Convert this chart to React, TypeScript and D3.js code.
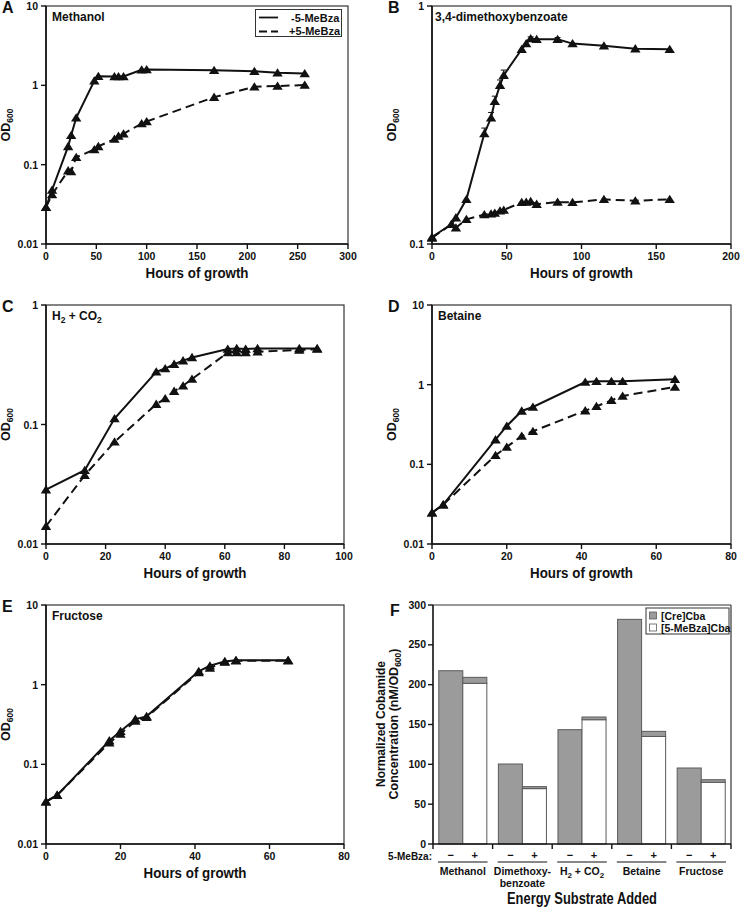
import React from "react";
import * as d3 from "d3";

// ---------- DATA ----------
const aHours = [0, 6, 22, 25, 30, 48, 52, 68, 72, 77, 95, 100, 167, 207, 230, 257];
const aMinus = [0.029, 0.048, 0.17, 0.235, 0.39, 1.14, 1.3, 1.29, 1.29, 1.29, 1.57, 1.58, 1.55, 1.5, 1.44, 1.41];
const aPlus = [0.029, 0.042, 0.084, 0.082, 0.124, 0.155, 0.17, 0.21, 0.23, 0.245, 0.33, 0.35, 0.71, 0.96, 0.98, 1.01];

const bHours = [0, 13, 16, 23, 35, 39.5, 42, 45.5, 48, 60, 63, 66, 70, 84, 94, 115, 136, 159];
const bMinus = [0.107, 0.121, 0.129, 0.154, 0.291, 0.339, 0.398, 0.465, 0.512, 0.658, 0.695, 0.73, 0.725, 0.725, 0.695, 0.68, 0.662, 0.658];
const bMinusErr = [0, 0, 0, 0, 0.016, 0.018, 0.02, 0.024, 0.026, 0, 0, 0.012, 0, 0.012, 0, 0, 0, 0];
const bPlus = [0.106, 0.121, 0.117, 0.127, 0.133, 0.134, 0.135, 0.138, 0.139, 0.1496, 0.15, 0.151, 0.147, 0.15, 0.1496, 0.154, 0.152, 0.154];

const cHours = [0, 13, 23, 37, 40, 43, 46, 49, 61, 64, 67, 71, 85, 91];
const cMinus = [0.0285, 0.0414, 0.112, 0.276, 0.294, 0.32, 0.342, 0.364, 0.428, 0.433, 0.428, 0.433, 0.433, 0.433];
const cPlus = [0.0141, 0.0376, 0.0716, 0.148, 0.165, 0.19, 0.211, 0.24, 0.4, 0.4, 0.4, 0.407, 0.42, 0.428];

const dHours = [0, 3, 17, 20, 24, 27, 41, 44, 48, 51, 65];
const dMinus = [0.0247, 0.0312, 0.204, 0.303, 0.468, 0.525, 1.08, 1.1, 1.1, 1.1, 1.17];
const dPlus = [0.0247, 0.0312, 0.13, 0.165, 0.227, 0.26, 0.472, 0.535, 0.636, 0.721, 0.935];

const eHours = [0, 3, 17, 20, 24, 27, 41, 44, 48, 51, 65];
const eMinus = [0.034, 0.041, 0.198, 0.26, 0.37, 0.4, 1.47, 1.73, 1.96, 2.02, 2.02];
const ePlus = [0.034, 0.041, 0.186, 0.24, 0.35, 0.39, 1.42, 1.62, 1.92, 2.0, 2.0];

const fCategories = ["Methanol", "Dimethoxy", "H2CO2", "Betaine", "Fructose"];
const fMinusCre = [217.5, 100.4, 143.5, 282, 95.4];
const fPlusMeBza = [201.7, 69.5, 156, 135, 77.4];
const fPlusCre = [7.5, 2.5, 3.4, 6.4, 3.3];

const xTicksA = [0, 50, 100, 150, 200, 250, 300];
const xTicksB = [0, 50, 100, 150, 200];
const xTicksC = [0, 20, 40, 60, 80, 100];
const xTicks80 = [0, 20, 40, 60, 80];
const yTicks4 = [0.01, 0.1, 1, 10];
const yTicksB = [0.1, 1];
const yTicksC = [0.01, 0.1, 1];
const fYTicks = [0, 50, 100, 150, 200, 250, 300];

// ---------- STYLE ----------
const FONT = "'Liberation Sans', Arial, Helvetica, sans-serif";
const INK = "#111";

function tri(cx: number, cy: number, s = 5.2) {
  const h = s * 1.6;
  return `M${cx},${cy - h * 0.55}L${cx + s},${cy + h * 0.45}L${cx - s},${cy + h * 0.45}Z`;
}

type Series = { x: number[]; y: number[]; dashed: boolean; err?: number[] };

function LogPanel(props: {
  x0: number; x1: number; yTop: number; yBot: number;
  xMax: number; xTicks: number[]; yMin: number; yMax: number; yTicks: number[];
  series: Series[]; letter: string; letterX: number; title: React.ReactNode; titleX: number;
}) {
  const { x0, x1, yTop, yBot, xMax, xTicks, yMin, yMax, yTicks, series, letter, letterX, title, titleX } = props;
  const xs = d3.scaleLinear().domain([0, xMax]).range([x0, x1]);
  const ys = d3.scaleLog().domain([yMin, yMax]).range([yBot, yTop]);
  const line = d3.line<[number, number]>().x((d) => xs(d[0])).y((d) => ys(d[1]));
  const cx = (x0 + x1) / 2;
  const cy = (yTop + yBot) / 2;
  return (
    <g fontFamily={FONT} fontWeight="bold" fill={INK}>
      <rect x={x0} y={yTop} width={x1 - x0} height={yBot - yTop} fill="none" stroke="#333" strokeWidth={1.2} />
      <line x1={x0} x2={x0} y1={yTop} y2={yBot} stroke={INK} strokeWidth={1.6} />
      <line x1={x0} x2={x1} y1={yBot} y2={yBot} stroke={INK} strokeWidth={1.6} />
      {yTicks.map((t) => (
        <g key={"y" + t}>
          <line x1={x0 - 5} x2={x0} y1={ys(t)} y2={ys(t)} stroke={INK} strokeWidth={1.4} />
          <text x={x0 - 8} y={ys(t) + 4} textAnchor="end" fontSize={10.5}>{String(t)}</text>
        </g>
      ))}
      {xTicks.map((t) => (
        <g key={"x" + t}>
          <line x1={xs(t)} x2={xs(t)} y1={yBot} y2={yBot + 5} stroke={INK} strokeWidth={1.4} />
          <text x={xs(t)} y={yBot + 16} textAnchor="middle" fontSize={10.5}>{t}</text>
        </g>
      ))}
      <text x={cx} y={yBot + 34} textAnchor="middle" fontSize={15.5} textLength={103} lengthAdjust="spacingAndGlyphs">Hours of growth</text>
      <text transform={`translate(${x0 - 36},${cy}) rotate(-90)`} textAnchor="middle" fontSize={12.5}>
        OD<tspan fontSize={8.5} dy={3}>600</tspan>
      </text>
      <text x={letterX} y={yTop + 7} fontSize={16}>{letter}</text>
      <text x={titleX} y={yTop + 15} fontSize={12}>{title}</text>
      {series.map((s, i) => (
        <path key={"l" + i}
          d={line(s.x.map((x, j) => [x, s.y[j]] as [number, number])) || ""}
          fill="none" stroke={INK} strokeWidth={2}
          strokeDasharray={s.dashed ? "9,5" : undefined} />
      ))}
      {series.map((s, i) =>
        s.err ? s.err.map((e, j) => e > 0 ? (
          <g key={"e" + i + "-" + j} stroke={INK} strokeWidth={1}>
            <line x1={xs(s.x[j])} x2={xs(s.x[j])} y1={ys(s.y[j])} y2={ys(s.y[j] + e)} />
            <line x1={xs(s.x[j]) - 3} x2={xs(s.x[j]) + 3} y1={ys(s.y[j] + e)} y2={ys(s.y[j] + e)} />
          </g>
        ) : null) : null
      )}
      {series.map((s, i) => s.x.map((x, j) => (
        <path key={"m" + i + "-" + j} d={tri(xs(x), ys(s.y[j]))} fill={INK} />
      )))}
    </g>
  );
}

function BarPanel() {
  const x0 = 433, x1 = 731, yTop = 605, yBot = 844;
  const xs = d3.scaleBand<string>().domain(fCategories).range([x0, x1]).padding(0);
  const inner = d3.scaleBand<string>().domain(["-", "+"]).range([0, xs.bandwidth()]).paddingInner(0).paddingOuter(0.24);
  const ys = d3.scaleLinear().domain([0, 300]).range([yBot, yTop]);
  const GRAY = "#9b9b9b";
  const EDGE = "#5a5a5a";
  const labels: React.ReactNode[] = [
    <tspan>Methanol</tspan>,
    <tspan>Dimethoxy-</tspan>,
    <tspan>H<tspan fontSize={8} dy={3}>2</tspan><tspan dy={-3}> + CO</tspan><tspan fontSize={8} dy={3}>2</tspan></tspan>,
    <tspan>Betaine</tspan>,
    <tspan>Fructose</tspan>,
  ];
  const bw = inner.bandwidth();
  return (
    <g fontFamily={FONT} fontWeight="bold" fill={INK}>
      {fCategories.map((c, i) => {
        const gx = xs(c)!;
        const mx = gx + inner("-")!;
        const px = gx + inner("+")!;
        return (
          <g key={c}>
            <rect x={mx} y={ys(fMinusCre[i])} width={bw} height={yBot - ys(fMinusCre[i])} fill={GRAY} stroke={EDGE} strokeWidth={1} />
            <rect x={px} y={ys(fPlusMeBza[i])} width={bw} height={yBot - ys(fPlusMeBza[i])} fill="#fff" stroke={EDGE} strokeWidth={1} />
            <rect x={px} y={ys(fPlusMeBza[i] + fPlusCre[i])} width={bw} height={ys(fPlusMeBza[i]) - ys(fPlusMeBza[i] + fPlusCre[i])} fill={GRAY} stroke={EDGE} strokeWidth={1} />
            <text x={mx + bw / 2} y={859} textAnchor="middle" fontSize={11}>−</text>
            <text x={px + bw / 2} y={859} textAnchor="middle" fontSize={11}>+</text>
            <line x1={gx + 5} x2={gx + xs.bandwidth() - 5} y1={862} y2={862} stroke={INK} strokeWidth={1.2} />
            <text x={gx + xs.bandwidth() / 2} y={874.5} textAnchor="middle" fontSize={10.5}>{labels[i]}</text>
            {i === 1 ? <text x={gx + xs.bandwidth() / 2} y={887} textAnchor="middle" fontSize={10.5}>benzoate</text> : null}
          </g>
        );
      })}
      <line x1={x0} x2={x1} y1={yTop} y2={yTop} stroke="#333" strokeWidth={1.2} />
      <line x1={x1} x2={x1} y1={yTop} y2={yBot} stroke="#333" strokeWidth={1.2} />
      <line x1={x0} x2={x0} y1={yTop} y2={yBot} stroke={INK} strokeWidth={1.6} />
      <line x1={x0} x2={x1} y1={yBot} y2={yBot} stroke={INK} strokeWidth={1.6} />
      {fYTicks.map((t) => (
        <g key={"fy" + t}>
          <line x1={x0 - 5} x2={x0} y1={ys(t)} y2={ys(t)} stroke={INK} strokeWidth={1.4} />
          <text x={x0 - 7} y={ys(t) + 3.5} textAnchor="end" fontSize={10.5}>{t}</text>
        </g>
      ))}
      {[...fCategories.map((c) => xs(c)!), x1].map((gx, i) => (
        <line key={"ft" + i} x1={gx} x2={gx} y1={yBot} y2={yBot + 5} stroke={INK} strokeWidth={1.4} />
      ))}
      <text x={432} y={859.5} textAnchor="end" fontSize={10}>5-MeBza:</text>
      <text x={(x0 + x1) / 2} y={904} textAnchor="middle" fontSize={16} textLength={150} lengthAdjust="spacingAndGlyphs">Energy Substrate Added</text>
      <text transform={`translate(385,724) rotate(-90)`} textAnchor="middle" fontSize={13} textLength={126} lengthAdjust="spacingAndGlyphs">Normalized Cobamide</text>
      <text transform={`translate(398,724) rotate(-90)`} textAnchor="middle" fontSize={12.5}>
        Concentration (nM/OD<tspan fontSize={8.5} dy={3}>600</tspan><tspan dy={-3}>)</tspan>
      </text>
      <text x={390} y={616} fontSize={16}>F</text>
      <rect x={646} y={608} width={83} height={26} fill="#fff" stroke="#333" strokeWidth={1} />
      <rect x={649.5} y={612} width={7} height={7} fill={GRAY} stroke={EDGE} strokeWidth={0.8} />
      <rect x={649.5} y={624} width={7} height={7} fill="#fff" stroke={EDGE} strokeWidth={0.8} />
      <text x={661} y={619.5} fontSize={10.5}>[Cre]Cba</text>
      <text x={661} y={631.5} fontSize={10.5}>[5-MeBza]Cba</text>
    </g>
  );
}

export default function App() {
  return (
    <svg width={740} height={909} style={{ position: "absolute", left: 0, top: 0, background: "#fff" }}>
      <rect width={740} height={909} fill="#fff" />
      <LogPanel x0={46} x1={348} yTop={6} yBot={244} xMax={300} xTicks={xTicksA}
        yMin={0.01} yMax={10} yTicks={yTicks4}
        series={[{ x: aHours, y: aMinus, dashed: false }, { x: aHours, y: aPlus, dashed: true }]}
        letter="A" letterX={2} title="Methanol" titleX={52} />
      <g fontFamily={FONT} fontWeight="bold" fill={INK}>
        <rect x={255.5} y={9.5} width={86} height={27} fill="#fff" stroke="#333" strokeWidth={1} />
        <line x1={259} x2={278} y1={17.5} y2={17.5} stroke={INK} strokeWidth={1.8} />
        <line x1={259} x2={278} y1={31.5} y2={31.5} stroke={INK} strokeWidth={1.8} strokeDasharray="8,4" />
        <text x={291} y={21.5} fontSize={11}>-5-MeBza</text>
        <text x={289} y={35} fontSize={11}>+5-MeBza</text>
      </g>
      <LogPanel x0={432} x1={731} yTop={6} yBot={244} xMax={200} xTicks={xTicksB}
        yMin={0.1} yMax={1} yTicks={yTicksB}
        series={[{ x: bHours, y: bMinus, dashed: false, err: bMinusErr }, { x: bHours, y: bPlus, dashed: true }]}
        letter="B" letterX={388} title="3,4-dimethoxybenzoate" titleX={435} />
      <LogPanel x0={46} x1={344} yTop={305} yBot={544} xMax={100} xTicks={xTicksC}
        yMin={0.01} yMax={1} yTicks={yTicksC}
        series={[{ x: cHours, y: cMinus, dashed: false }, { x: cHours, y: cPlus, dashed: true }]}
        letter="C" letterX={2}
        title={<tspan>H<tspan fontSize={8.5} dy={3}>2</tspan><tspan dy={-3}> + CO</tspan><tspan fontSize={8.5} dy={3}>2</tspan></tspan>}
        titleX={52} />
      <LogPanel x0={432} x1={731} yTop={305} yBot={544} xMax={80} xTicks={xTicks80}
        yMin={0.01} yMax={10} yTicks={yTicks4}
        series={[{ x: dHours, y: dMinus, dashed: false }, { x: dHours, y: dPlus, dashed: true }]}
        letter="D" letterX={388} title="Betaine" titleX={438} />
      <LogPanel x0={46} x1={344} yTop={605} yBot={844} xMax={80} xTicks={xTicks80}
        yMin={0.01} yMax={10} yTicks={yTicks4}
        series={[{ x: eHours, y: eMinus, dashed: false }, { x: eHours, y: ePlus, dashed: true }]}
        letter="E" letterX={2} title="Fructose" titleX={52} />
      <BarPanel />
    </svg>
  );
}
